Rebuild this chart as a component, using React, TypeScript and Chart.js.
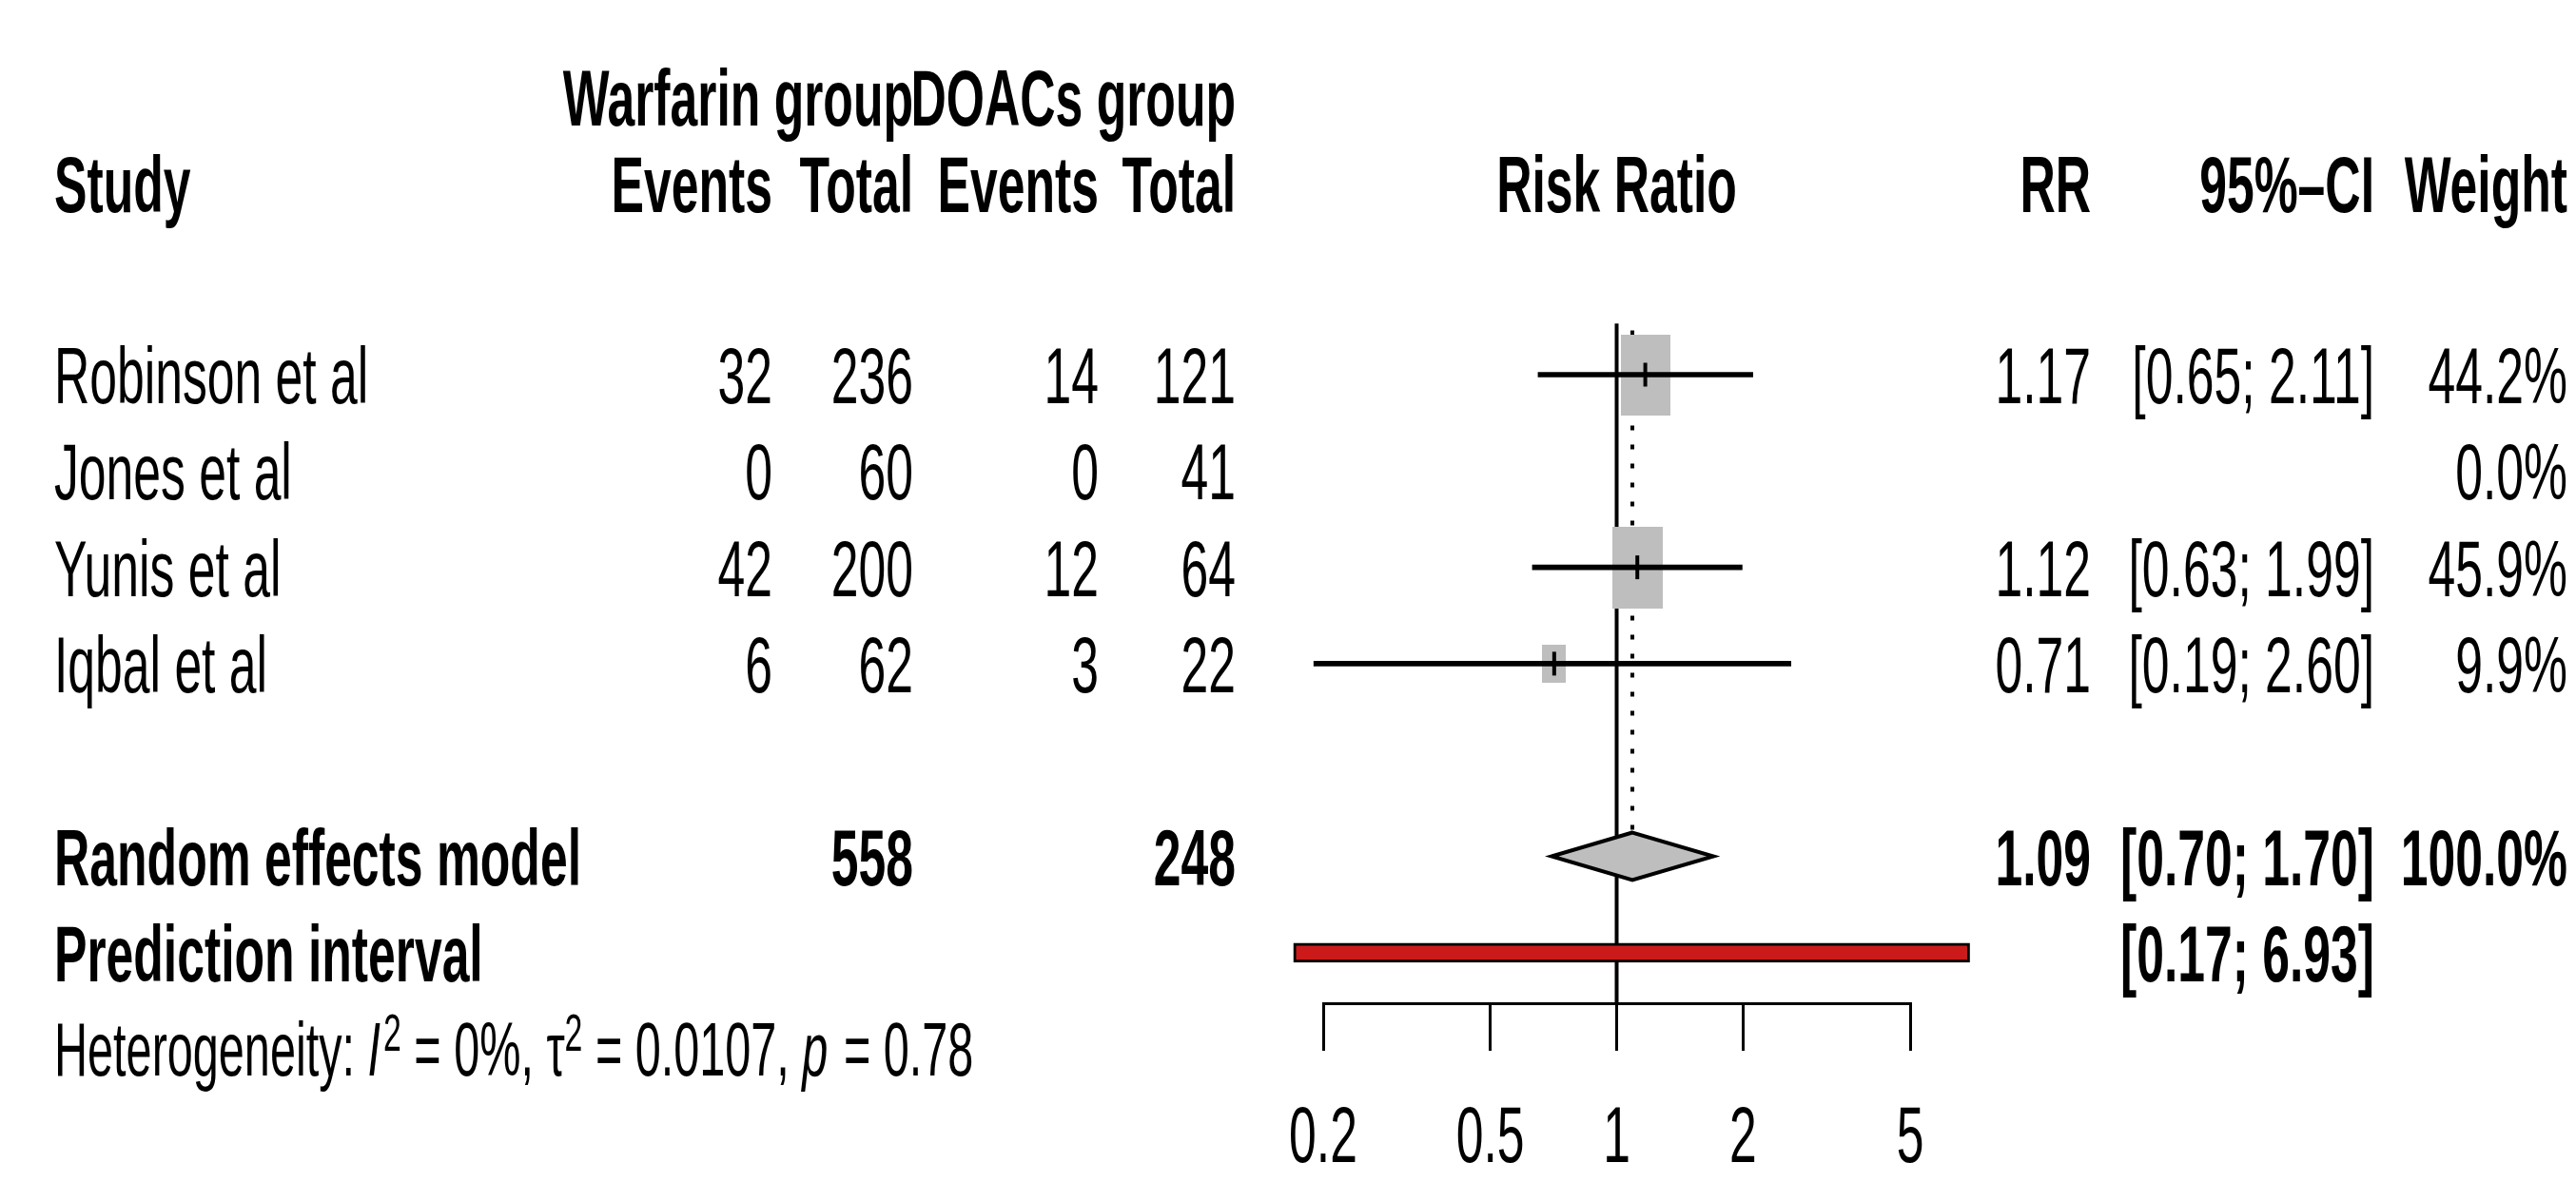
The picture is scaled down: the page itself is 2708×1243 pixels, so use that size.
import { useEffect, useRef } from 'react';
import { Chart, registerables } from 'chart.js';

Chart.register(...registerables);

// ---------------- data ----------------
const STUDIES = ['Robinson et al', 'Jones et al', 'Yunis et al', 'Iqbal et al'];
const EVENTS_WARFARIN = [32, 0, 42, 6];
const TOTAL_WARFARIN = [236, 60, 200, 62];
const EVENTS_DOAC = [14, 0, 12, 3];
const TOTAL_DOAC = [121, 41, 64, 22];
const RISK_RATIO: (number | null)[] = [1.17, null, 1.12, 0.71];
const CI_LOWER: (number | null)[] = [0.65, null, 0.63, 0.19];
const CI_UPPER: (number | null)[] = [2.11, null, 1.99, 2.6];
const WEIGHTS = [44.2, 0.0, 45.9, 9.9];
const STUDY_ROWS = [0, 1, 2, 3];

const POOLED_LABEL = 'Random effects model';
const POOLED_TOTALS = [558, 248];
const POOLED_RR = [1.09];
const POOLED_CI = [0.7, 1.7];
const POOLED_WEIGHT = [100.0];
const POOLED_ROW = 5;

const PRED_LABEL = 'Prediction interval';
const PRED_CI = [0.17, 6.93];
const PRED_ROW = 6;

const HET_ROW = 7;
const HET_I2 = ['0%'];
const HET_TAU2 = ['0.0107'];
const HET_P = ['0.78'];

const HEADER_ROW = -1.98;
const GROUP_ROW = -2.88;
const GROUP_LABELS = ['Warfarin group', 'DOACs group'];
const COL_HEADERS = ['Events', 'Total', 'Events', 'Total'];

const X_TICKS = [0.2, 0.5, 1, 2, 5];
const X_TICK_LABELS = ['0.2', '0.5', '1', '2', '5'];

// ---------------- layout / style ----------------
const W = 2708;
const H = 1243;
const PLOT_LEFT = 1391;
const PLOT_RIGHT = 2008;
const AXIS_H = 188;
const ROW0_PX = 394;
const ROW_PITCH = 101.3;
const SX = 0.615;
const FS = 84;
const FS_HET = 79;
const CAP = 0.716;
const FONT = '"Liberation Sans", Arial, Helvetica, sans-serif';
const STUDY_X = 57;
const COL_RIGHT = [812, 960, 1155, 1299];
const RR_RIGHT = 2198;
const CI_RIGHT = 2496;
const W_RIGHT = 2699;
const BOX_COLOR = '#BEBEBE';
const RED = '#CC1A1A';
const BOX_PX_PER_SQRT = 7.82;
const DIAMOND_HALF = 0.247;
const FILL_OVERLAP = 0.012;
const REF_TOP = -0.53;
const DOT_TOP = -0.46;

function fmt2(v: number) {
  return v.toFixed(2);
}
function ciText(lo: number, hi: number) {
  return '[' + fmt2(lo) + '; ' + fmt2(hi) + ']';
}

const textPlugin = {
  id: 'forestText',
  afterDraw(chart: any) {
    const ctx: CanvasRenderingContext2D = chart.ctx;
    const xs = chart.scales.x;
    const ys = chart.scales.y;
    const ry = (r: number) => ys.getPixelForValue(r);
    const fontOf = (bold: boolean, size: number, italic: boolean) =>
      `${italic ? 'italic' : 'normal'} ${bold ? 'bold' : 'normal'} ${size}px ${FONT}`;
    const put = (
      s: string,
      x: number,
      yc: number,
      align: CanvasTextAlign,
      bold = false,
      size = FS,
      italic = false,
      baselineOverride?: number
    ) => {
      ctx.save();
      ctx.font = fontOf(bold, size, italic);
      ctx.textAlign = align;
      ctx.textBaseline = 'alphabetic';
      ctx.fillStyle = '#000';
      const by = baselineOverride !== undefined ? baselineOverride : yc + (size * CAP) / 2;
      ctx.translate(x, by);
      ctx.scale(SX, 1);
      ctx.fillText(s, 0, 0);
      ctx.restore();
    };
    const measure = (s: string, bold = false, size = FS, italic = false) => {
      ctx.save();
      ctx.font = fontOf(bold, size, italic);
      const w = ctx.measureText(s).width * SX;
      ctx.restore();
      return w;
    };

    // headers
    put(GROUP_LABELS[0], COL_RIGHT[1], ry(GROUP_ROW), 'right', true);
    put(GROUP_LABELS[1], COL_RIGHT[3], ry(GROUP_ROW), 'right', true);
    put('Study', STUDY_X, ry(HEADER_ROW), 'left', true);
    COL_HEADERS.forEach((t, i) => put(t, COL_RIGHT[i], ry(HEADER_ROW), 'right', true));
    put('Risk Ratio', xs.getPixelForValue(1), ry(HEADER_ROW), 'center', true);
    put('RR', RR_RIGHT, ry(HEADER_ROW), 'right', true);
    put('95%\u2013CI', CI_RIGHT, ry(HEADER_ROW), 'right', true);
    put('Weight', W_RIGHT, ry(HEADER_ROW), 'right', true);

    // studies
    STUDIES.forEach((name, i) => {
      const y = ry(STUDY_ROWS[i]);
      put(name, STUDY_X, y, 'left');
      put(String(EVENTS_WARFARIN[i]), COL_RIGHT[0], y, 'right');
      put(String(TOTAL_WARFARIN[i]), COL_RIGHT[1], y, 'right');
      put(String(EVENTS_DOAC[i]), COL_RIGHT[2], y, 'right');
      put(String(TOTAL_DOAC[i]), COL_RIGHT[3], y, 'right');
      const rr = RISK_RATIO[i];
      const lo = CI_LOWER[i];
      const hi = CI_UPPER[i];
      if (rr !== null) put(fmt2(rr), RR_RIGHT, y, 'right');
      if (lo !== null && hi !== null) put(ciText(lo, hi), CI_RIGHT, y, 'right');
      put(WEIGHTS[i].toFixed(1) + '%', W_RIGHT, y, 'right');
    });

    // pooled
    const py = ry(POOLED_ROW);
    put(POOLED_LABEL, STUDY_X, py, 'left', true);
    put(String(POOLED_TOTALS[0]), COL_RIGHT[1], py, 'right', true);
    put(String(POOLED_TOTALS[1]), COL_RIGHT[3], py, 'right', true);
    put(fmt2(POOLED_RR[0]), RR_RIGHT, py, 'right', true);
    put(ciText(POOLED_CI[0], POOLED_CI[1]), CI_RIGHT, py, 'right', true);
    put(POOLED_WEIGHT[0].toFixed(1) + '%', W_RIGHT, py, 'right', true);

    // prediction
    const qy = ry(PRED_ROW);
    put(PRED_LABEL, STUDY_X, qy, 'left', true);
    put(ciText(PRED_CI[0], PRED_CI[1]), CI_RIGHT, qy, 'right', true);

    // heterogeneity
    const hy = ry(HET_ROW);
    const base = hy + (FS_HET * CAP) / 2;
    const supSize = Math.round(FS_HET * 0.7);
    const supBase = base - FS_HET * 0.34;
    const segs: { t: string; italic?: boolean; sup?: boolean }[] = [
      { t: 'Heterogeneity: ' },
      { t: 'I', italic: true },
      { t: '2', sup: true },
      { t: ' = ' + HET_I2[0] + ', ' },
      { t: '\u03C4' },
      { t: '2', sup: true },
      { t: ' = ' + HET_TAU2[0] + ', ' },
      { t: 'p', italic: true },
      { t: ' = ' + HET_P[0] },
    ];
    let cx = STUDY_X;
    segs.forEach((sg) => {
      const size = sg.sup ? supSize : FS_HET;
      put(sg.t, cx, hy, 'left', false, size, !!sg.italic, sg.sup ? supBase : base);
      cx += measure(sg.t, false, size, !!sg.italic) + (sg.italic ? 3 : 0);
    });

    // x tick labels
    const ty = xs.top + 137;
    X_TICKS.forEach((v, i) => {
      put(X_TICK_LABELS[i], xs.getPixelForValue(v), ty, 'center');
    });
  },
};

export default function App() {
  const ref = useRef<HTMLCanvasElement | null>(null);

  useEffect(() => {
    document.body.style.margin = '0';
    const canvas = ref.current;
    if (!canvas) return;

    const idx = STUDY_ROWS.map((_, i) => i).filter((i) => RISK_RATIO[i] !== null);
    const boxStyles = idx.map((i) => {
      const w = BOX_PX_PER_SQRT * Math.sqrt(WEIGHTS[i]);
      const c = document.createElement('canvas');
      c.width = Math.max(1, Math.round(w));
      c.height = Math.max(1, Math.round(w / SX));
      const g = c.getContext('2d')!;
      g.fillStyle = BOX_COLOR;
      g.fillRect(0, 0, c.width, c.height);
      return c;
    });

    const pooled = POOLED_RR[0];
    const refLine = {
      type: 'line',
      data: [
        { x: 1, y: REF_TOP },
        { x: 1, y: 7 },
      ],
      borderColor: '#000',
      borderWidth: 4,
      pointRadius: 0,
      fill: false,
      clip: false,
      order: 10,
    };
    const datasets: any[] = [
      refLine,
      {
        type: 'line',
        data: [
          { x: pooled, y: DOT_TOP },
          { x: pooled, y: POOLED_ROW - DIAMOND_HALF },
        ],
        borderColor: '#000',
        borderWidth: 4,
        borderDash: [5, 15],
        pointRadius: 0,
        fill: false,
        clip: false,
        order: 9,
      },
      {
        type: 'line',
        showLine: false,
        data: idx.map((i) => ({ x: RISK_RATIO[i], y: STUDY_ROWS[i] })),
        pointStyle: boxStyles,
        pointRadius: 1,
        clip: false,
        order: 8,
      },
      {
        type: 'bar',
        indexAxis: 'y',
        data: idx.map((i) => ({ x: [CI_LOWER[i], CI_UPPER[i]], y: STUDY_ROWS[i] })),
        backgroundColor: '#000',
        borderWidth: 0,
        barThickness: 5,
        grouped: false,
        clip: false,
        order: 6,
      },
      {
        type: 'line',
        showLine: false,
        data: idx.map((i) => ({ x: RISK_RATIO[i], y: STUDY_ROWS[i] })),
        pointStyle: 'line',
        pointRotation: 90,
        pointRadius: 12.5,
        pointBorderWidth: 4,
        pointBorderColor: '#000',
        clip: false,
        order: 5,
      },
      {
        type: 'line',
        data: [
          { x: POOLED_CI[0], y: POOLED_ROW },
          { x: pooled, y: POOLED_ROW - DIAMOND_HALF },
          { x: POOLED_CI[1], y: POOLED_ROW },
        ],
        borderWidth: 0,
        borderColor: 'rgba(0,0,0,0)',
        backgroundColor: BOX_COLOR,
        fill: { value: POOLED_ROW + FILL_OVERLAP },
        pointRadius: 0,
        clip: false,
        order: 4,
      },
      {
        type: 'line',
        data: [
          { x: POOLED_CI[0], y: POOLED_ROW },
          { x: pooled, y: POOLED_ROW + DIAMOND_HALF },
          { x: POOLED_CI[1], y: POOLED_ROW },
        ],
        borderWidth: 0,
        borderColor: 'rgba(0,0,0,0)',
        backgroundColor: BOX_COLOR,
        fill: { value: POOLED_ROW - FILL_OVERLAP },
        pointRadius: 0,
        clip: false,
        order: 4,
      },
      {
        type: 'line',
        data: [
          { x: POOLED_CI[0], y: POOLED_ROW },
          { x: pooled, y: POOLED_ROW - DIAMOND_HALF },
          { x: POOLED_CI[1], y: POOLED_ROW },
          { x: pooled, y: POOLED_ROW + DIAMOND_HALF },
          { x: POOLED_CI[0], y: POOLED_ROW },
          { x: pooled, y: POOLED_ROW - DIAMOND_HALF },
        ],
        borderWidth: 4,
        borderColor: '#000',
        borderJoinStyle: 'miter',
        fill: false,
        pointRadius: 0,
        clip: false,
        order: 3,
      },
      {
        type: 'bar',
        indexAxis: 'y',
        data: [{ x: PRED_CI, y: PRED_ROW }],
        backgroundColor: RED,
        borderColor: '#000',
        borderWidth: 3,
        borderSkipped: false,
        barThickness: 20,
        grouped: false,
        clip: false,
        order: 1,
      },
    ];

    const chart: any = new Chart(canvas, {
      type: 'line',
      data: { datasets },
      options: {
        animation: false,
        responsive: false,
        devicePixelRatio: 1,
        events: [],
        layout: { padding: { left: PLOT_LEFT, right: W - PLOT_RIGHT, top: 0, bottom: 0 } },
        plugins: { legend: { display: false }, tooltip: { enabled: false } },
        scales: {
          x: {
            type: 'logarithmic',
            position: 'bottom',
            min: X_TICKS[0],
            max: X_TICKS[X_TICKS.length - 1],
            offset: false,
            afterBuildTicks: (s: any) => {
              s.ticks = X_TICKS.map((v) => ({ value: v }));
            },
            afterFit: (s: any) => {
              s.height = AXIS_H;
            },
            ticks: { display: false },
            grid: {
              display: true,
              offset: false,
              drawOnChartArea: false,
              drawTicks: true,
              tickLength: 50,
              tickWidth: 3,
              tickColor: '#000',
              color: '#000',
              lineWidth: 3,
            },
            border: { display: true, color: '#000', width: 3 },
          },
          y: {
            type: 'linear',
            display: false,
            offset: false,
            grace: 0,
            bounds: 'data',
            min: -4,
            max: 7,
            reverse: true,
            ticks: { display: false },
            grid: { offset: false },
          },
        },
      } as any,
      plugins: [textPlugin],
    });

    // align rows with the reference: choose the y range from the actual plot area
    const ca = chart.chartArea;
    chart.options.scales.y.min = (ca.top - ROW0_PX) / ROW_PITCH;
    chart.options.scales.y.max = (ca.bottom - ROW0_PX) / ROW_PITCH;
    refLine.data[1].y = (chart.scales.x.top - ROW0_PX) / ROW_PITCH;
    chart.update();

    return () => chart.destroy();
  }, []);

  return (
    <canvas
      ref={ref}
      width={W}
      height={H}
      style={{ display: 'block', position: 'absolute', left: 0, top: 0, width: W, height: H, background: '#fff' }}
    />
  );
}
